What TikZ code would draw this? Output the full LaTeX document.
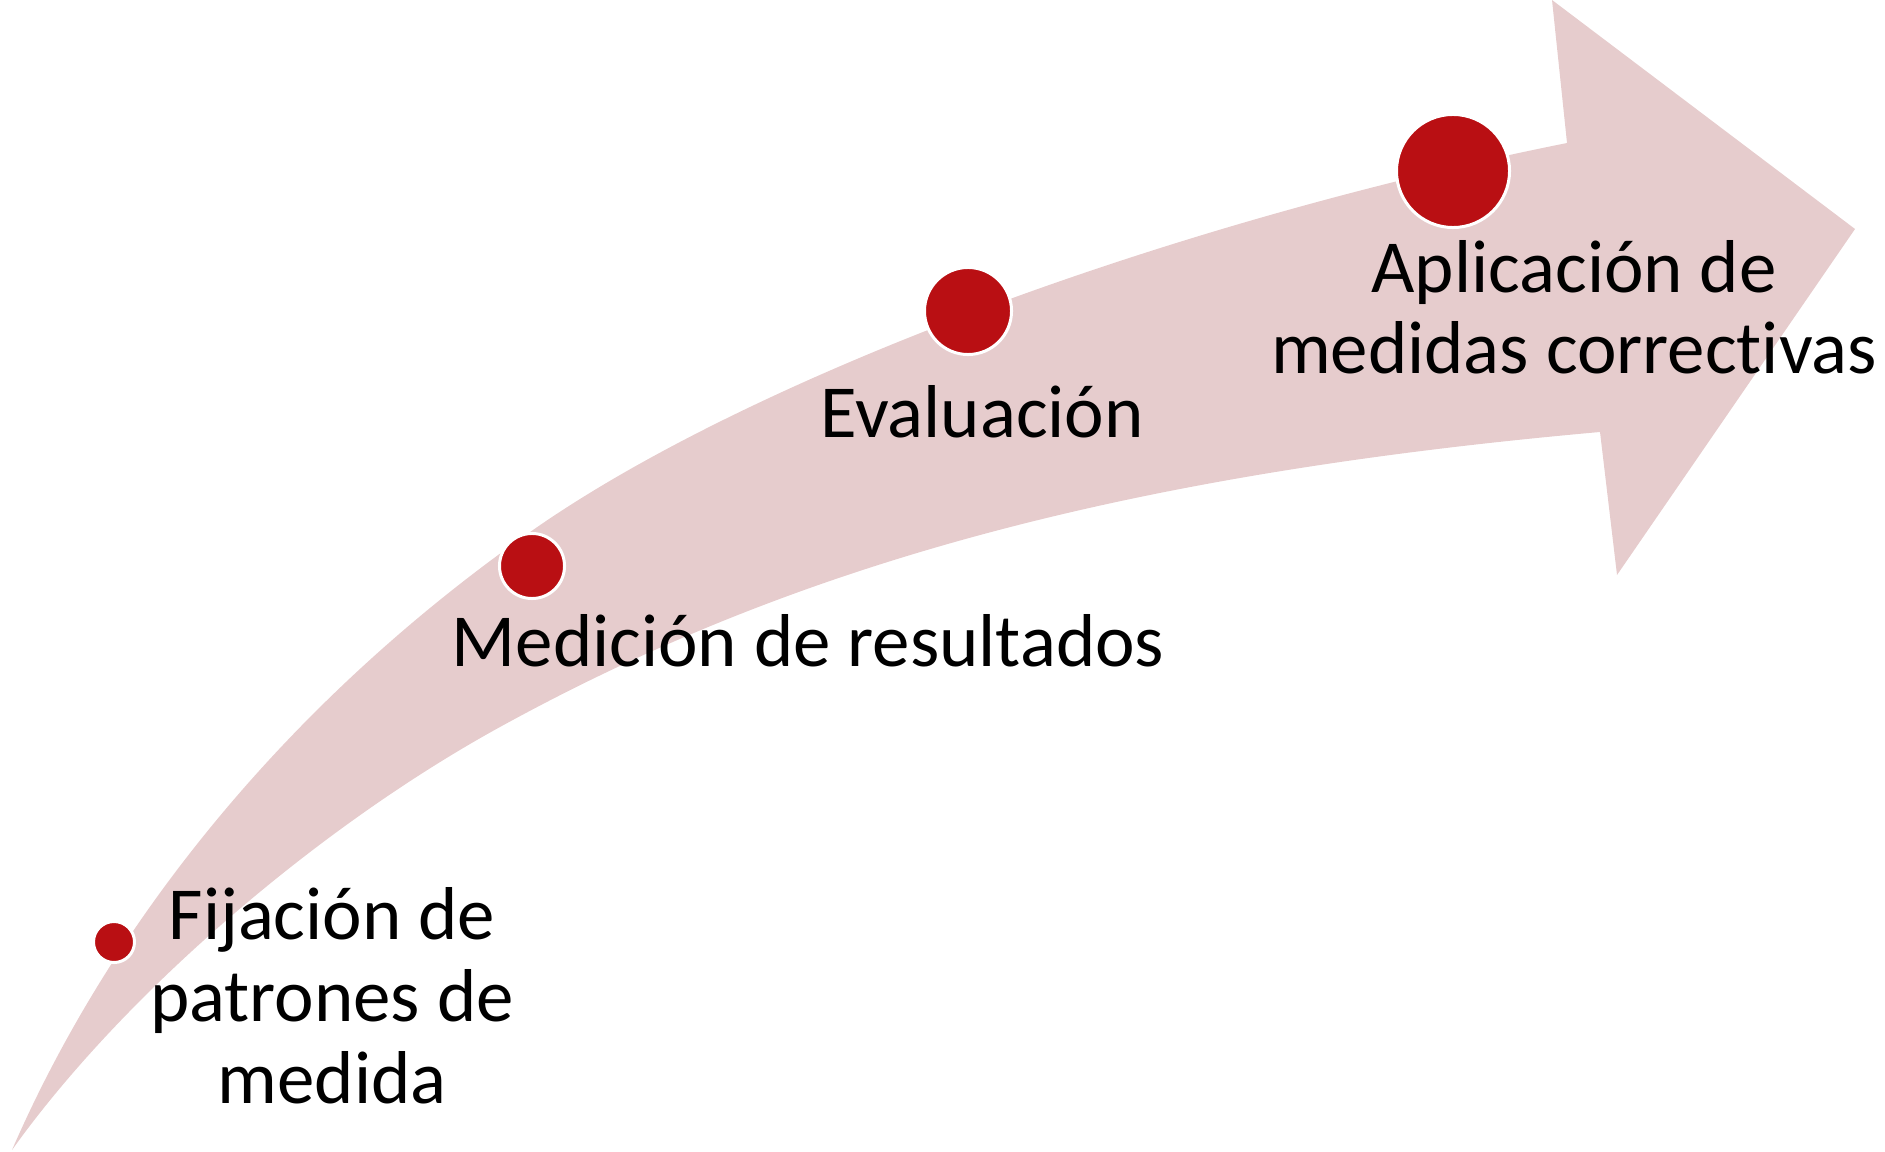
\documentclass[tikz,border=0pt]{standalone}
\usepackage{fontspec}
\setmainfont{Carlito}[Ligatures={NoCommon}]
\definecolor{bandpink}{RGB}{230,204,205}
\definecolor{dotred}{RGB}{185,15,19}
\begin{document}
\begin{tikzpicture}[x=0.01cm,y=-0.01cm,
  dot/.style={circle,fill=dotred,draw=white,line width=0.03cm,inner sep=0pt},
  lbl/.style={align=center,inner sep=0pt,anchor=base,font=\fontsize{21.3}{23.3}\selectfont}]
\useasboundingbox (0,0) rectangle (1885,1152);
\fill[bandpink]
  (12,1150) .. controls (116,911) and (298,694) .. (533,530)
  .. controls (749,379) and (1163,224) .. (1567,143)
  -- (1552,0) -- (1855,229) -- (1617,575) -- (1600,432)
  .. controls (1128,474) and (798,563) .. (500,727)
  .. controls (316,828) and (121,997) .. (12,1150)
  -- cycle;
\node[dot,minimum size=0.41cm] (d1) at (114,942) {};
\node[dot,minimum size=0.65cm] (d2) at (532,566) {};
\node[dot,minimum size=0.87cm] (d3) at (968,311) {};
\node[dot,minimum size=1.13cm] (d4) at (1453,171) {};
\node[lbl] (t1) at (332,1103) {Fijación de\\patrones de\\medida};
\node[lbl] (t2) at (808,666) {Medición de resultados};
\node[lbl] (t3) at (982,438) {Evaluación};
\node[lbl] (t4) at (1574,374) {Aplicación de\\medidas correctivas};
\end{tikzpicture}
\end{document}
